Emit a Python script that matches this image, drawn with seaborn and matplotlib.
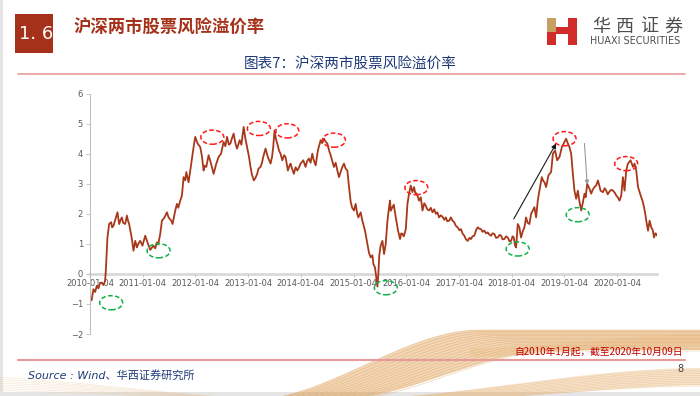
import numpy as np
import pandas as pd
import seaborn as sns
import matplotlib.pyplot as plt
import matplotlib.dates as mdates
from matplotlib.patches import Ellipse, Rectangle

# risk premium series (decimal year, value)
years = [
    2010.010, 2010.039, 2010.073, 2010.105, 2010.137, 2010.168, 2010.200, 2010.232, 2010.263, 2010.295,
    2010.308, 2010.339, 2010.371, 2010.409, 2010.428, 2010.453, 2010.499, 2010.529, 2010.561, 2010.590,
    2010.613, 2010.637, 2010.675, 2010.708, 2010.732, 2010.751, 2010.803, 2010.833, 2010.866, 2010.898,
    2010.923, 2010.961, 2011.004, 2011.056, 2011.099, 2011.151, 2011.213, 2011.246, 2011.278, 2011.303,
    2011.341, 2011.373, 2011.423, 2011.468, 2011.499, 2011.550, 2011.575, 2011.626, 2011.658, 2011.683,
    2011.721, 2011.753, 2011.784, 2011.816, 2011.835, 2011.879, 2011.911, 2011.940, 2011.974, 2012.006,
    2012.050, 2012.101, 2012.134, 2012.164, 2012.187, 2012.215, 2012.259, 2012.305, 2012.354, 2012.405,
    2012.449, 2012.495, 2012.520, 2012.544, 2012.577, 2012.609, 2012.643, 2012.672, 2012.700, 2012.734,
    2012.767, 2012.799, 2012.848, 2012.881, 2012.924, 2012.957, 2012.989, 2013.023, 2013.052, 2013.080,
    2013.115, 2013.147, 2013.179, 2013.204, 2013.242, 2013.270, 2013.293, 2013.337, 2013.381, 2013.432,
    2013.461, 2013.483, 2013.508, 2013.533, 2013.559, 2013.594, 2013.622, 2013.655, 2013.689, 2013.717,
    2013.761, 2013.793, 2013.812, 2013.841, 2013.875, 2013.907, 2013.940, 2013.974, 2014.002, 2014.054,
    2014.097, 2014.126, 2014.160, 2014.192, 2014.225, 2014.250, 2014.288, 2014.331, 2014.383, 2014.411,
    2014.445, 2014.478, 2014.510, 2014.544, 2014.573, 2014.635, 2014.668, 2014.700, 2014.731, 2014.763,
    2014.795, 2014.826, 2014.858, 2014.890, 2014.921, 2014.953, 2014.981, 2015.016, 2015.048, 2015.077,
    2015.099, 2015.143, 2015.175, 2015.200, 2015.225, 2015.270, 2015.301, 2015.333, 2015.366, 2015.385,
    2015.415, 2015.438, 2015.461, 2015.480, 2015.495, 2015.523, 2015.556, 2015.586, 2015.618, 2015.651,
    2015.681, 2015.700, 2015.713, 2015.746, 2015.771, 2015.809, 2015.852, 2015.890, 2015.913, 2015.936,
    2015.961, 2015.999, 2016.031, 2016.061, 2016.094, 2016.126, 2016.156, 2016.179, 2016.208, 2016.251,
    2016.284, 2016.316, 2016.350, 2016.379, 2016.407, 2016.442, 2016.474, 2016.506, 2016.540, 2016.569,
    2016.597, 2016.632, 2016.664, 2016.696, 2016.731, 2016.759, 2016.788, 2016.822, 2016.854, 2016.883,
    2016.917, 2016.949, 2016.982, 2017.016, 2017.044, 2017.073, 2017.107, 2017.139, 2017.172, 2017.206,
    2017.234, 2017.263, 2017.297, 2017.329, 2017.362, 2017.396, 2017.424, 2017.453, 2017.487, 2017.520,
    2017.552, 2017.586, 2017.615, 2017.643, 2017.677, 2017.710, 2017.742, 2017.776, 2017.805, 2017.833,
    2017.867, 2017.900, 2017.932, 2017.966, 2017.995, 2018.023, 2018.046, 2018.071, 2018.090, 2018.122,
    2018.153, 2018.170, 2018.185, 2018.213, 2018.248, 2018.280, 2018.309, 2018.343, 2018.375, 2018.404,
    2018.438, 2018.470, 2018.502, 2018.533, 2018.578, 2018.603, 2018.628, 2018.660, 2018.704, 2018.755,
    2018.788, 2018.831, 2018.869, 2018.913, 2018.936, 2018.959, 2019.008, 2019.040, 2019.073, 2019.103,
    2019.136, 2019.168, 2019.198, 2019.231, 2019.263, 2019.293, 2019.326, 2019.358, 2019.388, 2019.411,
    2019.440, 2019.483, 2019.516, 2019.544, 2019.578, 2019.611, 2019.643, 2019.668, 2019.693, 2019.738,
    2019.772, 2019.801, 2019.829, 2019.867, 2019.896, 2019.928, 2019.963, 2019.991, 2020.020, 2020.054,
    2020.086, 2020.118, 2020.149, 2020.181, 2020.213, 2020.263, 2020.309, 2020.339, 2020.371, 2020.404,
    2020.438, 2020.466, 2020.495, 2020.518, 2020.542, 2020.561, 2020.594, 2020.624, 2020.656, 2020.685,
    2020.708, 2020.732, 2020.751, 2020.765,
]
premium = [
    -0.80, -0.88, -0.51, -0.60, -0.40, -0.48, -0.30, -0.29, -0.37, -0.23,
    0.10, 1.21, 1.66, 1.72, 1.55, 1.60, 1.88, 2.05, 1.66, 1.80,
    1.88, 1.70, 1.66, 1.94, 1.75, 1.66, 1.16, 0.77, 1.10, 0.88,
    1.00, 1.10, 0.94, 1.27, 1.05, 0.80, 0.94, 0.85, 1.05, 0.98,
    1.33, 1.77, 1.88, 2.05, 1.88, 1.77, 1.66, 2.11, 2.33, 2.20,
    2.44, 2.61, 3.22, 3.11, 3.39, 3.05, 3.44, 3.80, 4.22, 4.56,
    4.34, 4.22, 3.90, 3.44, 3.60, 3.56, 3.95, 3.67, 3.33, 3.67,
    3.89, 4.00, 4.20, 4.39, 4.25, 4.56, 4.30, 4.34, 4.50, 4.67,
    4.35, 4.17, 4.45, 4.30, 4.89, 4.50, 4.22, 3.90, 3.56, 3.30,
    3.11, 3.20, 3.33, 3.50, 3.56, 3.70, 3.89, 4.17, 3.89, 3.67,
    3.90, 4.22, 4.78, 4.50, 4.34, 4.10, 4.00, 3.78, 3.95, 3.89,
    3.44, 3.60, 3.67, 3.50, 3.33, 3.55, 3.44, 3.55, 3.67, 3.78,
    3.56, 3.75, 3.84, 3.70, 4.00, 3.80, 3.61, 4.11, 4.45, 4.35,
    4.50, 4.40, 4.34, 4.10, 3.95, 3.56, 3.70, 3.44, 3.22, 3.40,
    3.56, 3.67, 3.50, 3.44, 2.89, 2.40, 2.20, 2.11, 2.33, 2.00,
    1.88, 2.05, 1.77, 1.60, 1.44, 0.99, 0.70, 0.55, 0.62, 0.32,
    0.21, -0.10, -0.42, 0.04, 0.60, 0.95, 1.10, 0.66, 0.99, 1.77,
    2.22, 2.44, 2.10, 2.22, 2.30, 1.88, 1.44, 1.16, 1.35, 1.33,
    1.25, 1.49, 2.33, 2.67, 2.94, 2.72, 2.89, 2.70, 2.67, 2.44,
    2.55, 2.11, 2.35, 2.27, 2.15, 2.11, 2.20, 2.05, 2.15, 2.00,
    2.05, 1.88, 1.95, 1.90, 1.80, 1.88, 1.75, 1.77, 1.88, 1.78,
    1.72, 1.60, 1.55, 1.45, 1.49, 1.35, 1.27, 1.15, 1.10, 1.20,
    1.16, 1.25, 1.27, 1.45, 1.55, 1.50, 1.49, 1.40, 1.44, 1.35,
    1.38, 1.30, 1.27, 1.35, 1.33, 1.20, 1.21, 1.30, 1.27, 1.15,
    1.16, 1.25, 1.21, 1.08, 1.10, 1.25, 1.21, 0.95, 0.88, 1.66,
    1.55, 1.35, 1.21, 1.40, 1.55, 1.88, 1.70, 1.66, 2.00, 2.10,
    2.22, 1.88, 2.44, 2.77, 3.22, 3.10, 3.05, 2.89, 3.28, 3.39,
    4.00, 4.11, 3.78, 3.89, 4.05, 4.22, 4.39, 4.50, 4.34, 4.22,
    4.00, 3.33, 2.77, 2.50, 2.77, 2.40, 2.11, 2.38, 2.67, 2.55,
    3.00, 2.83, 2.67, 2.80, 2.89, 2.95, 3.11, 2.95, 2.77, 2.72,
    2.85, 2.77, 2.65, 2.75, 2.80, 2.77, 2.70, 2.61, 2.55, 2.44,
    2.60, 3.22, 2.77, 3.44, 3.67, 3.78, 3.56, 3.67, 3.44, 2.89,
    2.70, 2.55, 2.40, 2.22, 2.00, 1.77, 1.44, 1.77, 1.55, 1.45,
    1.21, 1.35, 1.33, 1.27,
]

# circled highs / lows and arrows drawn on the original chart
red_marks = [(2012.33, 4.55), (2013.21, 4.84), (2013.75, 4.76), (2014.635, 4.45),
             (2016.20, 2.87), (2019.01, 4.50), (2020.18, 3.67)]
green_marks = [(2010.41, -0.96), (2011.31, 0.77), (2015.62, -0.46),
               (2018.12, 0.83), (2019.26, 1.97)]
rise_arrow = [(2018.046, 1.83), (2018.85, 4.34)]
drop_arrow = [(2019.388, 4.34), (2019.44, 2.97)]

tick_years = list(range(2010, 2021))
start_date, end_date = "2010-01-04", "2020-10-09"

title_text = "沪深两市股票风险溢价率"
chart_title = "图表7：沪深两市股票风险溢价率"
note_text = "自2010年1月起，截至2020年10月09日"
source_text = "Source : Wind、华西证券研究所"
logo_cn = "华西证券"
logo_en = "HUAXI SECURITIES"


def to_date(y):
    yr = int(y)
    return pd.Timestamp(yr, 1, 1) + pd.Timedelta(days=(y - yr) * 365.25)


def to_num(y):
    return mdates.date2num(to_date(y))


sns.set_style("white")
plt.rcParams['font.family'] = ['Noto Sans CJK SC', 'DejaVu Sans']

W, H = 700, 396
fig = plt.figure(figsize=(W / 100, H / 100), dpi=100)

# slide decorations in pixel space
bg = fig.add_axes([0, 0, 1, 1], zorder=0)
bg.set_xlim(0, W)
bg.set_ylim(H, 0)
bg.axis("off")

bg.add_patch(Rectangle((0, 0), 3, H, color="#e4e4e4", lw=0))
bg.add_patch(Rectangle((0, H - 4), W, 4, color="#e4e4e4", lw=0))

# swooshes at the bottom
xs = np.linspace(0, W, 400)


def sweep(x, x0, x1, y0, y1):
    t = np.clip((x - x0) / (x1 - x0), 0, 1)
    return y0 + (y1 - y0) * (3 * t ** 2 - 2 * t ** 3)


bg.fill_between(xs, sweep(xs, 250, 480, 400, 330), sweep(xs, 330, 560, 400, 350),
                color="#e3a55c", alpha=0.45, lw=0)
for k in range(16):
    yk = sweep(xs, 250 + k * 6, 480 + k * 5, 400, 330 + k * 1.4)
    bg.plot(xs, yk, color="#d28a3a", lw=0.5, alpha=0.35)
bg.fill_between(xs, sweep(xs, 330, 700, 400, 368), sweep(xs, 420, 720, 400, 385),
                color="#eab474", alpha=0.35, lw=0)
for k in range(10):
    yk = sweep(xs, 330 + k * 9, 700, 400, 370 + k * 1.8)
    bg.plot(xs, yk, color="#e2a860", lw=0.5, alpha=0.35)
bg.fill_between(xs, sweep(xs, 470, 700, 348, 334), sweep(xs, 470, 700, 356, 344),
                where=xs > 470, color="#efc898", alpha=0.45, lw=0)
for k in range(8):
    yk = sweep(xs, -50, 300, 376 + k * 2, 400)
    bg.plot(xs, yk, color="#e7b57a", lw=0.5, alpha=0.3)

# header
bg.add_patch(Rectangle((15, 14), 38, 39, color="#a5311a", lw=0))
bg.text(19, 34, "1. 6", color="white", fontsize=13, va="center", ha="left",
        family="DejaVu Sans")
bg.add_patch(Rectangle((53, 14), 12, 39, color="white", lw=0))
bg.text(74, 27, title_text, color="#a5311a", fontsize=12.5, fontweight="bold",
        va="center", ha="left")

# logo
bg.add_patch(Rectangle((547, 18), 9, 14, color="#c9a063", lw=0))
bg.add_patch(Rectangle((547, 32), 9, 13, color="#d22b2b", lw=0))
bg.add_patch(Rectangle((568, 18), 9, 27, color="#d22b2b", lw=0))
bg.add_patch(Rectangle((556, 27), 12, 7, color="#d22b2b", lw=0))
for i, ch in enumerate(logo_cn):
    bg.text(601 + i * 24, 27, ch, color="#4d4d4d", fontsize=13, va="center", ha="center")
bg.text(590, 41, logo_en, color="#4d4d4d", fontsize=6.9, va="center",
        ha="left", family="DejaVu Sans")

bg.text(350, 64, chart_title, color="#1f3a78", fontsize=10.5, va="center", ha="center")
bg.plot([18, 685], [74, 74], color="#e79a9a", lw=1.2)

# footer
bg.text(683, 352, note_text, color="#c00000", fontsize=7, va="center", ha="right")
bg.plot([18, 685], [359.5, 359.5], color="#e79a9a", lw=1.5)
bg.text(683, 369, "8", color="#404040", fontsize=7, va="center", ha="right",
        family="DejaVu Sans")
bg.text(28, 375, source_text, color="#1f3a78", fontsize=8, va="center", ha="left",
        style="italic", family=['DejaVu Sans', 'Noto Sans CJK SC'])

# chart
ax = fig.add_axes([90 / W, 1 - 334 / H, (657.4 - 90) / W, (334 - 93.6) / H], zorder=1)
ax.patch.set_alpha(0)

df = pd.DataFrame({"date": [to_date(y) for y in years], "premium": premium})
sns.lineplot(data=df, x="date", y="premium", ax=ax, color="#a8381a", lw=1.3)

ax.set_xlim(pd.Timestamp(start_date), pd.Timestamp(end_date))
ax.set_ylim(-2, 6)
ax.set_yticks(range(-2, 7))
ax.set_xticks([pd.Timestamp(f"{y}-01-04") for y in tick_years])
ax.xaxis.set_major_formatter(mdates.DateFormatter("%Y-%m-%d"))
ax.set_xlabel("")
ax.set_ylabel("")

for s in ["top", "right"]:
    ax.spines[s].set_visible(False)
ax.spines["left"].set_color("#bfbfbf")
ax.spines["left"].set_linewidth(0.8)
ax.spines["bottom"].set_position(("data", 0))
ax.spines["bottom"].set_color("#d9d9d9")
ax.spines["bottom"].set_linewidth(2)
ax.spines["bottom"].set_zorder(0.5)

ax.tick_params(axis="y", length=3, width=0.6, color="#bfbfbf", labelsize=6,
               labelcolor="#595959", pad=2, left=True)
ax.tick_params(axis="x", length=2, width=0.6, color="#bfbfbf", labelsize=6,
               labelcolor="#595959", pad=1.5, bottom=True)
for lab in ax.get_xticklabels() + ax.get_yticklabels():
    lab.set_fontfamily("DejaVu Sans")

# annotations
ew = 159  # days
eh = 0.47
for x, y in red_marks:
    ax.add_patch(Ellipse((to_num(x), y), ew, eh, fill=False, ec="#ff1a1a",
                         lw=1.1, ls=(0, (3, 1.6)), zorder=5))
for x, y in green_marks:
    ax.add_patch(Ellipse((to_num(x), y), ew, eh, fill=False, ec="#13b04b",
                         lw=1.1, ls=(0, (3, 1.6)), zorder=5))

(x0, y0), (x1, y1) = rise_arrow
ax.annotate("", xy=(to_num(x1), y1), xytext=(to_num(x0), y0),
            arrowprops=dict(arrowstyle="-|>", color="#1a1a1a", lw=0.8,
                            mutation_scale=7, shrinkA=0, shrinkB=0))
(x0, y0), (x1, y1) = drop_arrow
ax.annotate("", xy=(to_num(x1), y1), xytext=(to_num(x0), y0),
            arrowprops=dict(arrowstyle="-|>", color="#9a9a9a", lw=0.8,
                            mutation_scale=6, shrinkA=0, shrinkB=0))

fig.savefig("out.png", dpi=100)
